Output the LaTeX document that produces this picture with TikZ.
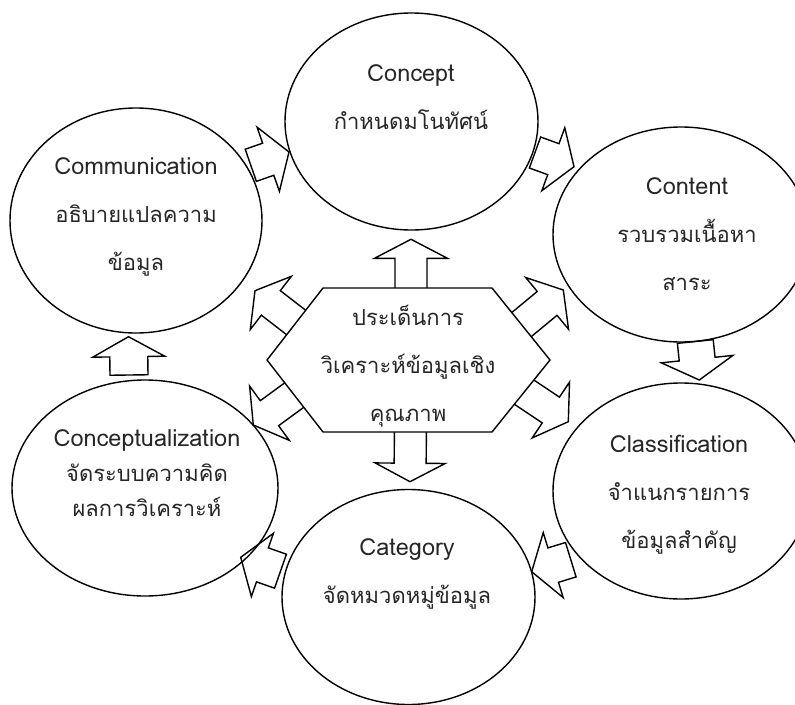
\documentclass[tikz,border=0pt]{standalone}
\usepackage{fontspec}
\newfontfamily\thai[Script=Thai]{Loma}
\usetikzlibrary{calc,shapes.geometric}
\newcommand\blockarr[7][]{% #2 name, #3 tail, #4 tip, #5 half shaft, #6 half head, #7 head length
  \coordinate (#2-t) at (#3);
  \coordinate (#2-p) at (#4);
  \coordinate (#2-h) at ($(#2-p)!#7!(#2-t)$);
  \draw[blk,#1] ($(#2-t)!#5!90:(#2-p)$) -- ($(#2-h)!#5!90:(#2-p)$) -- ($(#2-h)!#6!90:(#2-p)$)
     -- (#2-p) -- ($(#2-h)!#6!-90:(#2-p)$) -- ($(#2-h)!#5!-90:(#2-p)$) -- ($(#2-t)!#5!-90:(#2-p)$) -- cycle;
}
\newcommand\lat[1]{{\fontsize{23.5}{48}\selectfont #1}}
\newcommand\latb[1]{{\fontsize{23.5}{35}\selectfont #1}}
\begin{document}
\begin{tikzpicture}[x=1pt,y=-1pt,
  ell/.style={draw, ellipse, line width=1.4pt, inner sep=0pt, outer sep=0pt},
  blk/.style={draw, line width=1.4pt, line join=miter},
  txt/.style={font=\thai\fontsize{22}{48}\selectfont, align=center, inner sep=0pt, text=black!85}]
\useasboundingbox (0,0) rectangle (795,704);
\clip (0,0) rectangle (795,704);
% ellipses
\node[ell, minimum width=253pt, minimum height=217pt] (concept) at (411.5,121.5) {};
\node[ell, minimum width=252pt, minimum height=225pt] (comm) at (136,220.5) {};
\node[ell, minimum width=256pt, minimum height=215pt] (content) at (681,234.5) {};
\node[ell, minimum width=256pt, minimum height=216pt] (class) at (681,491) {};
\node[ell, minimum width=253pt, minimum height=215pt] (categ) at (408.5,597) {};
\node[ell, minimum width=266pt, minimum height=216pt] (cptz) at (145,488) {};
% cycle arrows
\blockarr{a1}{250.8,165.3}{289,152}{17pt}{34pt}{22pt}
\blockarr{a2}{535,152.5}{574,166.7}{16.5pt}{33.5pt}{22pt}
\blockarr{a3}{695.3,341.5}{699.3,380}{18pt}{36pt}{21pt}
\blockarr{a4}{570.8,559.7}{531.7,571.7}{18pt}{34pt}{22.5pt}
\blockarr{a5}{280.5,571.2}{240.7,557.3}{18pt}{33.5pt}{23pt}
\blockarr{a6}{129,375}{128.5,336.7}{19pt}{36pt}{20pt}
% hexagon arrows
\blockarr[fill=white]{h1}{411,360}{411,239.3}{16pt}{36.5pt}{19pt}
\blockarr[fill=white]{h2}{411,360}{410,481.7}{16pt}{35pt}{18.5pt}
\blockarr[fill=white]{h3}{334,351.7}{255,290.7}{15.5pt}{33.6pt}{20pt}
\blockarr[fill=white]{h4}{486,354}{563.3,290}{15.5pt}{33.6pt}{21pt}
\blockarr[fill=white]{h5}{334,366}{253.3,425}{15.5pt}{33.6pt}{20pt}
\blockarr[fill=white]{h6}{485,366}{568.3,421.7}{15.5pt}{33.6pt}{21pt}
% hexagon
\draw[blk, fill=white] (323,288) -- (492,288) -- (550,360) -- (492,432) -- (323,432) -- (267,360) -- cycle;
% texts
\node[txt] (hexT) at (408,366) {ประเด็นการ\\วิเคราะห์ข้อมูลเชิง\\คุณภาพ};
\node[txt] (conceptT) at (411,97.5) {\lat{Concept}\\กำหนดมโนทัศน์};
\node[txt] (commT) at (136,216.5) {\lat{Communication}\\อธิบายแปลความ\\ข้อมูล};
\node[txt] (contentT) at (687,234) {\lat{Content}\\รวบรวมเนื้อหา\\สาระ};
\node[txt] (classT) at (679,495) {\lat{Classification}\\จำแนกรายการ\\ข้อมูลสำคัญ};
\node[txt, font=\thai\fontsize{22}{35}\selectfont] (cptzT) at (147,473) {\latb{Conceptualization}\\จัดระบบความคิด\\ผลการวิเคราะห์};
\node[txt] (categT) at (407,574) {\lat{Category}\\จัดหมวดหมู่ข้อมูล};
\end{tikzpicture}
\end{document}
